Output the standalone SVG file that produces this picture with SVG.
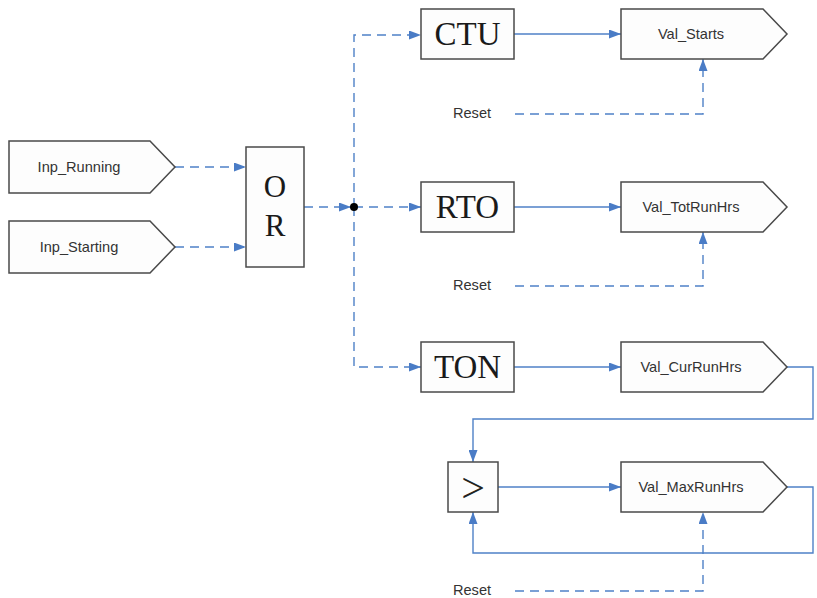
<svg xmlns="http://www.w3.org/2000/svg" width="817" height="598" viewBox="0 0 817 598">
<defs>
<style>
.shape{fill:#fdfdfd;stroke:#4a4a4a;stroke-width:1.5}
.lbl{font-family:"Liberation Sans",Arial,sans-serif;font-size:14.6px;fill:#333;text-anchor:middle}
.big{font-family:"Liberation Serif","Times New Roman",serif;font-size:33px;fill:#1a1a1a;text-anchor:middle}
.solid{fill:none;stroke:#4f81c7;stroke-width:1.4}
.dash{fill:none;stroke:#4f81c7;stroke-width:1.4;stroke-dasharray:9 6}
</style>
<marker id="arr" viewBox="0 0 12 9" refX="12" refY="4.5" markerWidth="12" markerHeight="9" markerUnits="userSpaceOnUse" orient="auto">
<path d="M0,0 L12,4.5 L0,9 Z" fill="#4a7cc6"/>
</marker>
</defs>
<rect width="817" height="598" fill="#ffffff"/>

<g id="connectors">
<path class="dash" d="M175,167 H246" marker-end="url(#arr)"/>
<path class="dash" d="M175,247 H246" marker-end="url(#arr)"/>
<path class="dash" d="M304,207 H351" marker-end="url(#arr)"/>
<path class="dash" d="M354,207 V35 H421" marker-end="url(#arr)"/>
<path class="dash" d="M354,207 H421" marker-end="url(#arr)"/>
<path class="dash" d="M354,207 V367 H421" marker-end="url(#arr)"/>
<path class="solid" d="M514,34 H621" marker-end="url(#arr)"/>
<path class="solid" d="M514,207 H621" marker-end="url(#arr)"/>
<path class="solid" d="M514,367 H621" marker-end="url(#arr)"/>
<path class="dash" d="M515,114 H703 V59" marker-end="url(#arr)"/>
<path class="dash" d="M515,286 H703 V232" marker-end="url(#arr)"/>
<path class="solid" d="M787,367 H813 V419 H473 V462" marker-end="url(#arr)"/>
<path class="solid" d="M498,487 H621" marker-end="url(#arr)"/>
<path class="solid" d="M787,487 H813 V553 H473 V512" marker-end="url(#arr)"/>
<path class="dash" d="M515,591 H703 V512" marker-end="url(#arr)"/>
<circle cx="354" cy="207" r="4" fill="#000"/>
</g>

<g id="inp_running">
<polygon class="shape" points="9,141 150,141 175,167 150,193 9,193"/>
<text class="lbl" x="79" y="172">Inp_Running</text>
</g>
<g id="inp_starting">
<polygon class="shape" points="9,221 150,221 175,247 150,273 9,273"/>
<text class="lbl" x="79" y="252">Inp_Starting</text>
</g>
<g id="or">
<rect class="shape" x="246" y="147" width="58" height="120"/>
<text class="big" x="275" y="197" style="font-size:31px">O</text>
<text class="big" x="275" y="236" style="font-size:31px">R</text>
</g>
<g id="ctu">
<rect class="shape" x="421" y="9" width="93" height="50"/>
<text class="big" x="467.5" y="45">CTU</text>
</g>
<g id="rto">
<rect class="shape" x="421" y="182" width="93" height="50"/>
<text class="big" x="467.5" y="218">RTO</text>
</g>
<g id="ton">
<rect class="shape" x="421" y="342" width="93" height="50"/>
<text class="big" x="467.5" y="378">TON</text>
</g>
<g id="gt">
<rect class="shape" x="448" y="462" width="50" height="50"/>
<text x="473" y="502" style="font-family:'Liberation Serif','Times New Roman',serif;font-size:42px;fill:#222;text-anchor:middle">&gt;</text>
</g>
<g id="val_starts">
<polygon class="shape" points="621,9 763,9 787,34 763,59 621,59"/>
<text class="lbl" x="691" y="39">Val_Starts</text>
</g>
<g id="val_totrunhrs">
<polygon class="shape" points="621,182 763,182 787,207 763,232 621,232"/>
<text class="lbl" x="691" y="212">Val_TotRunHrs</text>
</g>
<g id="val_currunhrs">
<polygon class="shape" points="621,342 763,342 787,367 763,392 621,392"/>
<text class="lbl" x="691" y="372">Val_CurRunHrs</text>
</g>
<g id="val_maxrunhrs">
<polygon class="shape" points="621,462 763,462 787,487 763,512 621,512"/>
<text class="lbl" x="691" y="492">Val_MaxRunHrs</text>
</g>
<g id="reset1"><text class="lbl" x="472" y="118">Reset</text></g>
<g id="reset2"><text class="lbl" x="472" y="290">Reset</text></g>
<g id="reset3"><text class="lbl" x="472" y="595">Reset</text></g>
</svg>
